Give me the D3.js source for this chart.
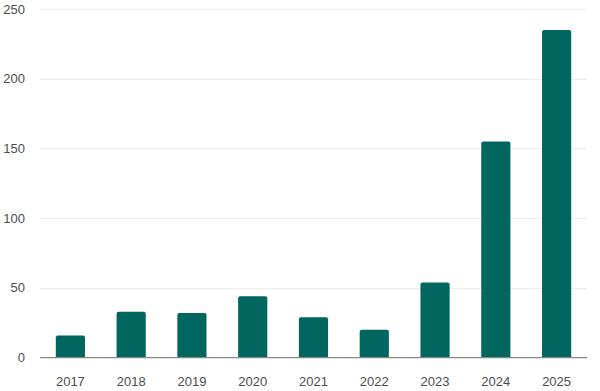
<!DOCTYPE html>
<html>
<head>
<meta charset="utf-8">
<script src="https://cdn.jsdelivr.net/npm/d3@7"></script>
<style>
  body { margin: 0; background: #fff; }
  text { font-family: "Liberation Sans", Arial, sans-serif; }
</style>
</head>
<body>
<div id="chart"></div>
<script>
const years = ["2017", "2018", "2019", "2020", "2021", "2022", "2023", "2024", "2025"];
const values = [16, 33, 32, 44, 29, 20, 54, 155, 235];
const yTicks = [0, 50, 100, 150, 200, 250];

const width = 600, height = 391;
const margin = {top: 9, right: 13, bottom: 33, left: 40};

const svg = d3.select("#chart")
    .append("svg")
    .attr("width", width)
    .attr("height", height);

const x = d3.scaleBand()
    .domain(years)
    .range([margin.left, width - margin.right])
    .paddingInner(0.52)
    .paddingOuter(0.26);

const y = d3.scaleLinear()
    .domain([0, 250])
    .range([height - margin.bottom - 0.3, margin.top]);

// gridlines
svg.append("g")
    .selectAll("line")
    .data(yTicks.filter(d => d > 0))
    .join("line")
    .attr("x1", margin.left)
    .attr("x2", width - margin.right)
    .attr("y1", d => Math.round(y(d)) + 0.5)
    .attr("y2", d => Math.round(y(d)) + 0.5)
    .attr("stroke", "#ebebeb")
    .attr("stroke-width", 1.2);

// y labels
svg.append("g")
    .selectAll("text")
    .data(yTicks)
    .join("text")
    .attr("x", 25)
    .attr("y", d => y(d) + 4.5)
    .attr("text-anchor", "end")
    .attr("font-size", 13)
    .attr("fill", "#4d4d4d")
    .text(d => d);

// bars
svg.append("g")
    .selectAll("path")
    .data(values)
    .join("path")
    .attr("fill", "#01665f")
    .attr("d", (d, i) => {
        const x0 = x(years[i]), w = x.bandwidth();
        const y0 = y(0), y1 = y(d), r = 2;
        return `M${x0},${y0}V${y1 + r}Q${x0},${y1} ${x0 + r},${y1}H${x0 + w - r}Q${x0 + w},${y1} ${x0 + w},${y1 + r}V${y0}Z`;
    });

// baseline
svg.append("line")
    .attr("x1", margin.left)
    .attr("x2", width - margin.right)
    .attr("y1", y(0))
    .attr("y2", y(0))
    .attr("stroke", "#888")
    .attr("stroke-width", 1.3);

// x labels
svg.append("g")
    .selectAll("text")
    .data(years)
    .join("text")
    .attr("x", d => x(d) + x.bandwidth() / 2)
    .attr("y", 386)
    .attr("text-anchor", "middle")
    .attr("font-size", 13)
    .attr("fill", "#4d4d4d")
    .text(d => d);
</script>
</body>
</html>
